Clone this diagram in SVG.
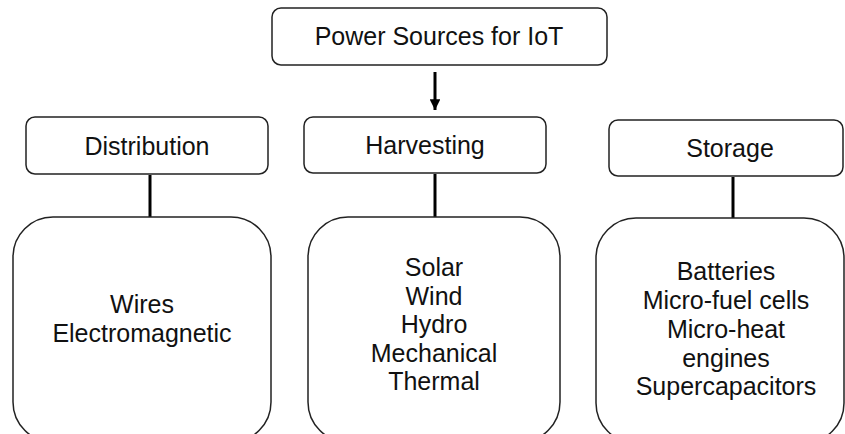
<svg xmlns="http://www.w3.org/2000/svg" width="845" height="434" viewBox="0 0 845 434">
<defs>
<style>
.box{fill:#fff;stroke:#222;stroke-width:1.5}
.t{font-family:"Liberation Sans",Arial,sans-serif;font-size:25px;fill:#111;text-anchor:middle}
.c{stroke:#000;stroke-width:3;fill:none}
</style>
<marker id="ah" viewBox="0 0 10 10" refX="10" refY="5" markerWidth="3.6" markerHeight="3.6" orient="auto" markerUnits="strokeWidth">
<path d="M0,0 L10,5 L0,10 z" fill="#000"/>
</marker>
</defs>
<rect width="845" height="434" fill="#fff"/>
<g id="connectors">
<line class="c" x1="435" y1="72" x2="435" y2="110" marker-end="url(#ah)"/>
<line class="c" x1="150" y1="175" x2="150" y2="218"/>
<line class="c" x1="435" y1="174" x2="435" y2="218"/>
<line class="c" x1="733" y1="177" x2="733" y2="219"/>
</g>
<g id="power">
<rect class="box" x="272" y="8" width="335" height="57" rx="9"/>
<text class="t" x="439" y="45">Power Sources for IoT</text>
</g>
<g id="distribution">
<rect class="box" x="26" y="117" width="242" height="57" rx="9"/>
<text class="t" x="147" y="155">Distribution</text>
</g>
<g id="harvesting">
<rect class="box" x="304" y="117" width="242" height="56" rx="9"/>
<text class="t" x="425" y="154">Harvesting</text>
</g>
<g id="storage">
<rect class="box" x="609" y="120" width="234" height="56" rx="9"/>
<text class="t" x="730" y="157">Storage</text>
</g>
<g id="distribution-items">
<rect class="box" x="13" y="217" width="258" height="225" rx="40"/>
<text class="t" x="142" y="313">Wires</text>
<text class="t" x="142" y="342">Electromagnetic</text>
</g>
<g id="harvesting-items">
<rect class="box" x="308" y="217" width="252" height="225" rx="40"/>
<text class="t" x="434" y="276">Solar</text>
<text class="t" x="434" y="305">Wind</text>
<text class="t" x="434" y="333">Hydro</text>
<text class="t" x="434" y="362">Mechanical</text>
<text class="t" x="434" y="390">Thermal</text>
</g>
<g id="storage-items">
<rect class="box" x="596" y="218" width="248" height="225" rx="40"/>
<text class="t" x="726" y="280">Batteries</text>
<text class="t" x="726" y="309">Micro-fuel cells</text>
<text class="t" x="726" y="338">Micro-heat</text>
<text class="t" x="726" y="367">engines</text>
<text class="t" x="726" y="395">Supercapacitors</text>
</g>
</svg>
